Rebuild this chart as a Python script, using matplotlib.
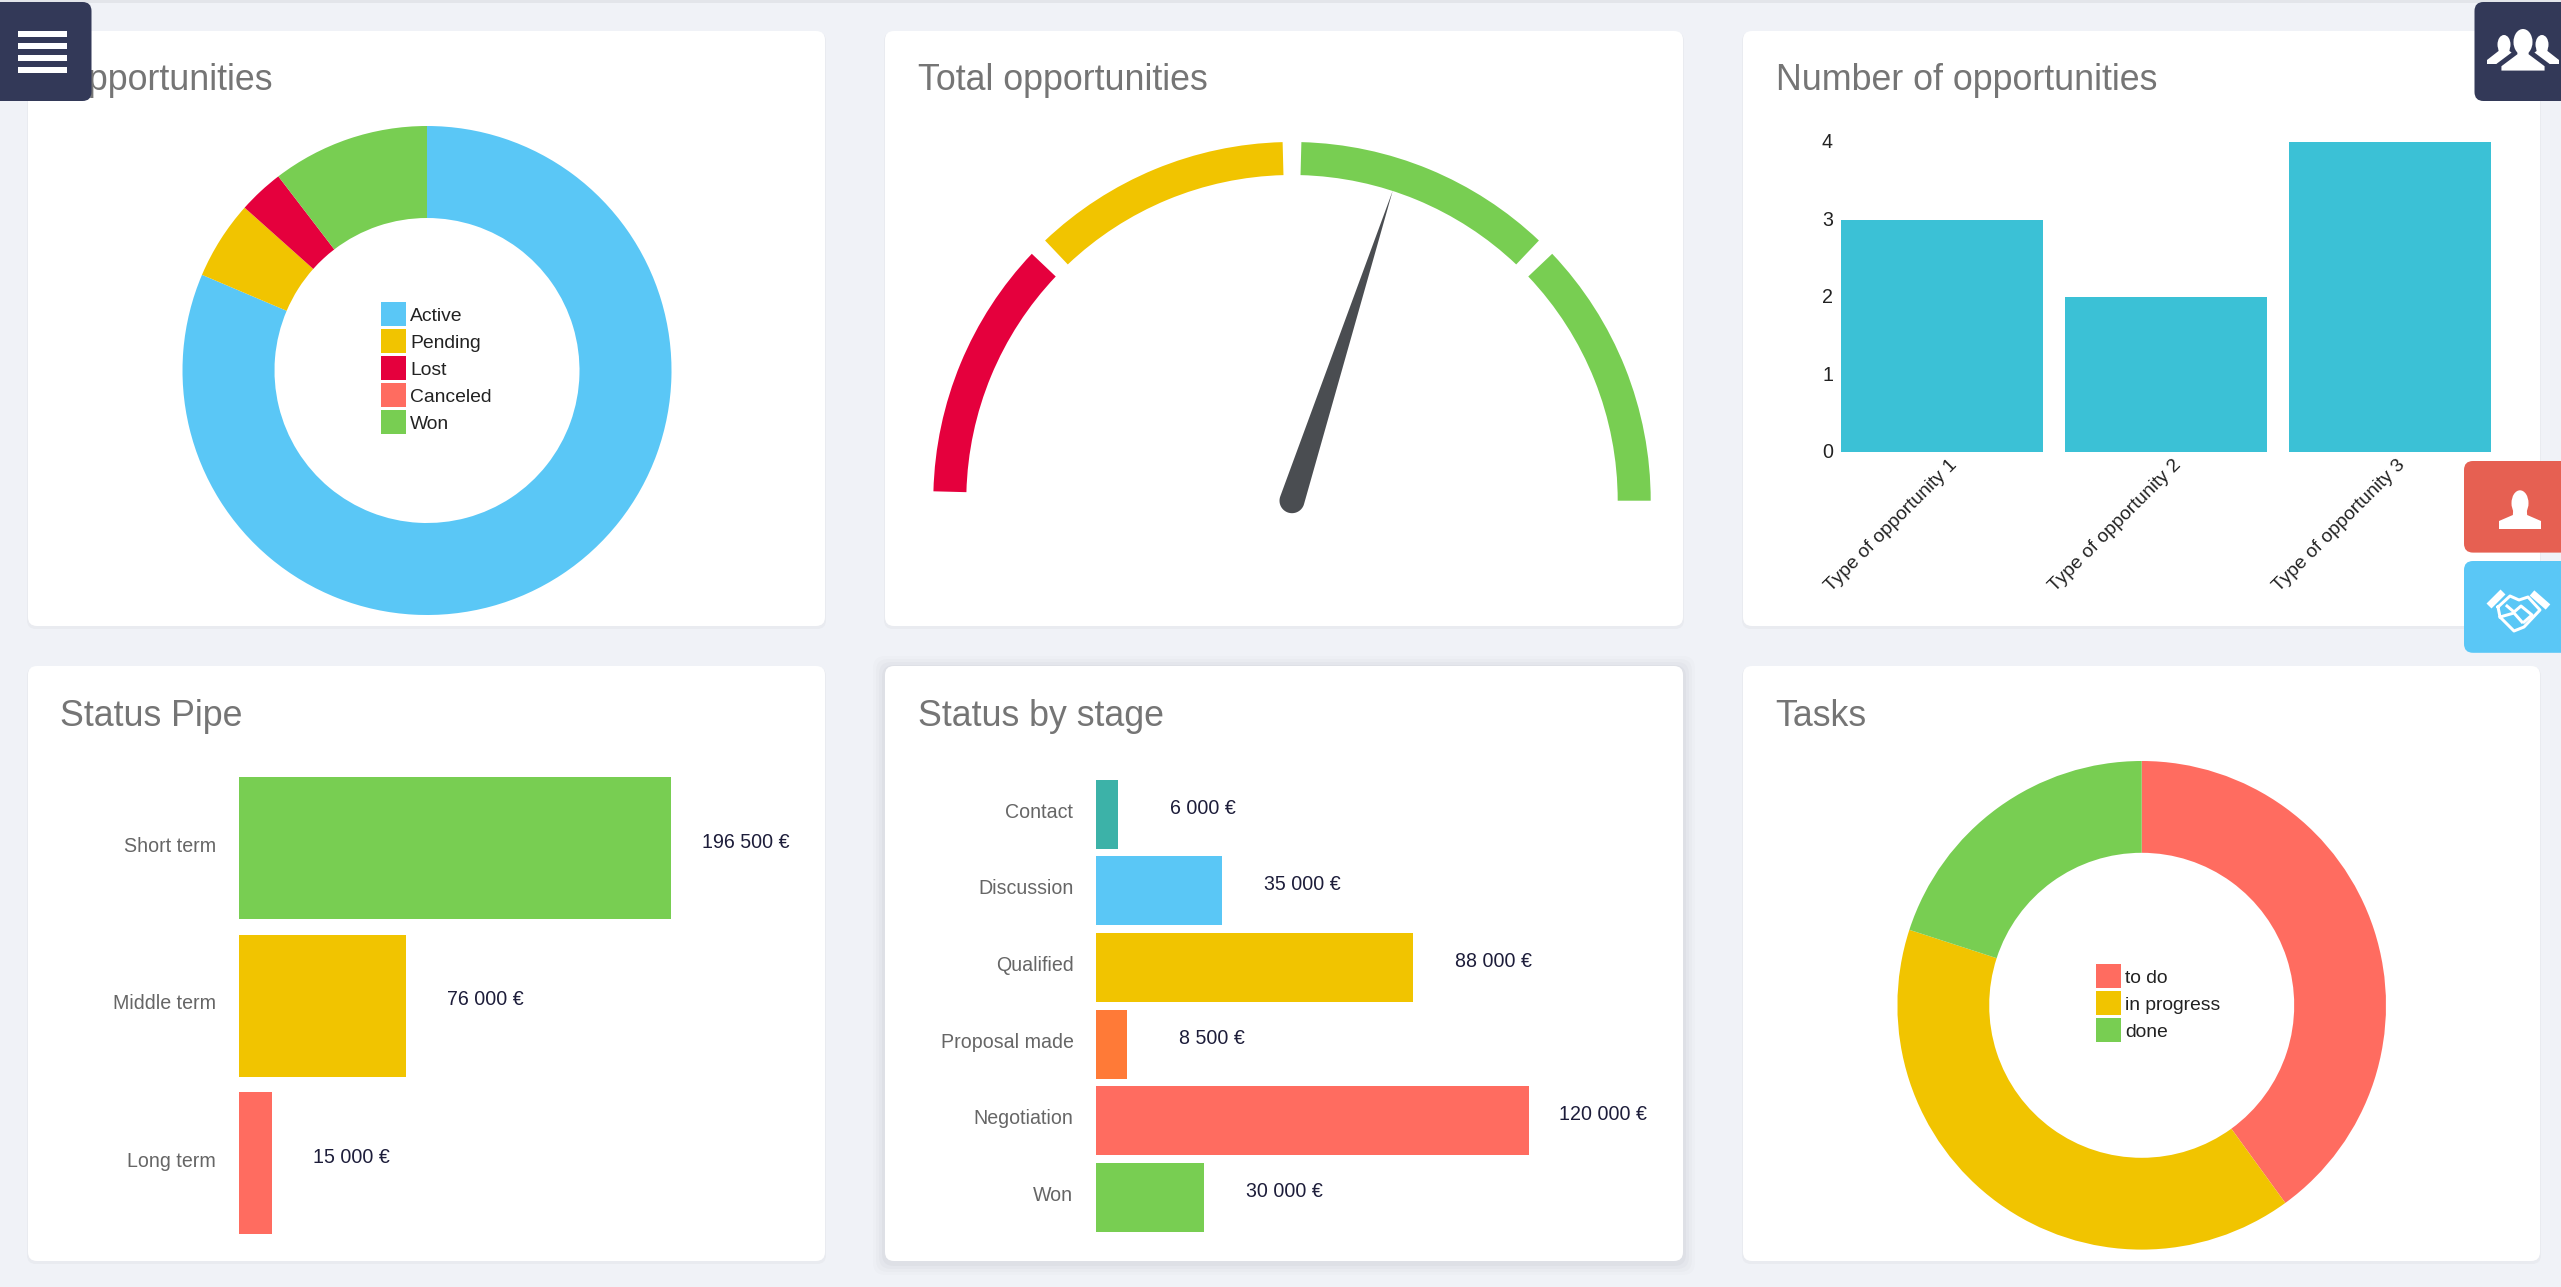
import numpy as np
import matplotlib
matplotlib.use("Agg")
import matplotlib.pyplot as plt
from matplotlib.patches import FancyBboxPatch, Rectangle, Wedge, Ellipse, Polygon
from matplotlib.transforms import ScaledTranslation

plt.rcParams['font.family'] = ['Liberation Sans', 'DejaVu Sans']

# ---- data ----
opp_labels = ['Active', 'Pending', 'Lost', 'Canceled', 'Won']
opp_values = [81.4, 5.2, 3.0, 0.0, 10.4]
opp_colors = ['#5AC7F6', '#F1C400', '#E5003D', '#FF6C60', '#78CE52']

gauge_edges = [0, 45, 90, 135, 180]
gauge_colors = ['#E5003D', '#F1C400', '#78CE52', '#78CE52']
gauge_value = 108

type_labels = ['Type of opportunity 1', 'Type of opportunity 2', 'Type of opportunity 3']
type_values = [3, 2, 4]
type_ticks = [0, 1, 2, 3, 4]

pipe_labels = ['Short term', 'Middle term', 'Long term']
pipe_values = [196500, 76000, 15000]
pipe_text = ['196 500 €', '76 000 €', '15 000 €']
pipe_colors = ['#78CE52', '#F1C400', '#FF6C60']

stage_labels = ['Contact', 'Discussion', 'Qualified', 'Proposal made', 'Negotiation', 'Won']
stage_values = [6000, 35000, 88000, 8500, 120000, 30000]
stage_text = ['6 000 €', '35 000 €', '88 000 €', '8 500 €', '120 000 €', '30 000 €']
stage_colors = ['#3CB2A8', '#5AC7F6', '#F1C400', '#FF7A37', '#FF6C60', '#78CE52']

task_labels = ['to do', 'in progress', 'done']
task_values = [40, 40, 20]
task_colors = ['#FF6C60', '#F1C400', '#78CE52']

titles = ['Opportunities', 'Total opportunities', 'Number of opportunities',
          'Status Pipe', 'Status by stage', 'Tasks']

# ---- layout helpers ----
W, H = 2561, 1287
BG = '#F0F2F7'
fig = plt.figure(figsize=(W / 100, H / 100), dpi=100, facecolor=BG)
PX = 0.72  # points per pixel at dpi 100
SMALL = 19.6 * PX


def axes_px(x0, y0, x1, y1, zorder=2):
    ax = fig.add_axes([x0 / W, 1 - y1 / H, (x1 - x0) / W, (y1 - y0) / H], zorder=zorder)
    ax.patch.set_alpha(0)
    return ax


back = axes_px(0, 0, W, H, zorder=0)
back.set_xlim(0, W)
back.set_ylim(H, 0)
back.axis('off')

card_x = [(28, 825), (885, 1683), (1743, 2540)]
card_y = [(31, 626), (666, 1261)]
title_base = [90, 726.5]
title_x = [60, 918, 1775.5]
back.add_patch(Rectangle((0, 0), W, 2.5, fc='#E3E5EA', ec='none'))
k = 0
for r, (y0, y1) in enumerate(card_y):
    for c, (x0, x1) in enumerate(card_x):
        if k == 4:
            for grow, alpha in [(12, .012), (9, .018), (6, .025), (3, .03)]:
                back.add_patch(FancyBboxPatch((x0 - grow, y0 - grow + 2), x1 - x0 + 2 * grow, y1 - y0 + 2 * grow,
                                              boxstyle='round,pad=0,rounding_size=12', fc='#30354a', ec='none', alpha=alpha))
        else:
            back.add_patch(FancyBboxPatch((x0 - 1, y0 + 1), x1 - x0 + 2, y1 - y0 + 2,
                                          boxstyle='round,pad=0,rounding_size=9', fc='#E9EBF0', ec='none'))
        back.add_patch(FancyBboxPatch((x0, y0), x1 - x0, y1 - y0,
                                      boxstyle='round,pad=0,rounding_size=9', fc='white', ec='none'))
        back.text(title_x[c], title_base[r], titles[k], fontsize=35.7 * PX, color='#757575',
                  va='baseline', ha='left')
        k += 1


def donut(cx, cy, R, r, values, colors, labels, lx, ly):
    ax = axes_px(cx - R, cy - R, cx + R, cy + R)
    wedges, _ = ax.pie(values, colors=colors, startangle=90, counterclock=False, radius=1,
                       wedgeprops=dict(width=1 - r / R, linewidth=0))
    ax.set_xlim(-1, 1)
    ax.set_ylim(-1, 1)
    fs = 19.3
    ax.legend(wedges, labels, loc='upper left',
              bbox_to_anchor=(lx / W, 1 - ly / H), bbox_transform=fig.transFigure,
              frameon=False, borderpad=0, borderaxespad=0,
              fontsize=fs * PX, handlelength=24.5 / fs, handleheight=1.576,
              handletextpad=4.5 / fs, labelspacing=2.5 / fs, labelcolor='#222222')
    return ax


donut(427, 370.5, 244.5, 152.5, opp_values, opp_colors, opp_labels, 381, 302)
donut(2141.7, 1005.3, 244.3, 152.5, task_values, task_colors, task_labels, 2096, 964)

# ---- gauge ----
gx, gy, gR = 1292, 500.7, 358.7
gauge = axes_px(gx - gR, gy - gR, gx + gR, gy + 16)
gauge.set_xlim(-1, 1)
gauge.set_ylim(-16 / gR, 1)
gauge.axis('off')
pad = 1.5
for i, col in enumerate(gauge_colors):
    a0 = gauge_edges[i] + pad
    a1 = gauge_edges[i + 1] - (pad if i < len(gauge_colors) - 1 else 0)
    gauge.add_patch(Wedge((0, 0), 1, 180 - a1, 180 - a0, width=33 / gR, fc=col, ec='none'))
theta = np.radians(180 - gauge_value)
ux, uy = np.cos(theta), np.sin(theta)
tip = 326 / gR
base = 12.5 / gR
arc = np.linspace(theta + np.pi / 2, theta + 3 * np.pi / 2, 30)
pts = [(tip * ux, tip * uy)] + [(base * np.cos(t), base * np.sin(t)) for t in arc]
gauge.add_patch(Polygon(pts, closed=True, fc='#4A4D51', ec='none', zorder=3))

# ---- number of opportunities ----
bar = axes_px(1835, 142.3, 2502, 452)
pos = np.arange(len(type_values))
bar.bar(pos, type_values, width=0.9, color='#3BC1D6')
bar.set_xlim((1835 - 1942.1) / 224, (2502 - 1942.1) / 224)
bar.set_ylim(0, 4)
bar.set_yticks(type_ticks)
bar.set_xticks(pos)
bar.set_xticklabels(type_labels, rotation=45, ha='right', rotation_mode='anchor', va='top',
                    fontsize=19.1 * PX, color='#222222')
bar.tick_params(axis='y', length=0, pad=2 * PX, labelsize=SMALL, labelcolor='#222222')
bar.tick_params(axis='x', length=0, pad=3)
for lab in bar.get_xticklabels():
    lab.set_transform(lab.get_transform() + ScaledTranslation(6 / 100, 0, fig.dpi_scale_trans))
for lab in bar.get_yticklabels():
    lab.set_transform(lab.get_transform() + ScaledTranslation(0, 1.5 / 100, fig.dpi_scale_trans))
for s in bar.spines.values():
    s.set_visible(False)


def hbars(x0, x1, y0, y1, vmax, values, labels, texts, colors):
    ax = axes_px(x0, y0, x1, y1)
    p = np.arange(len(values))
    ax.barh(p, values, height=0.9, color=colors)
    ax.set_xlim(0, vmax)
    ax.set_ylim(len(values) - 0.5, -0.5)
    ax.set_xticks([])
    ax.set_yticks(p)
    ax.set_yticklabels(labels, fontsize=SMALL, color='#666666')
    ax.tick_params(axis='y', length=0, pad=23 * PX)
    for lab in ax.get_yticklabels():
        lab.set_transform(lab.get_transform() + ScaledTranslation(0, 4 / 100, fig.dpi_scale_trans))
    for s in ax.spines.values():
        s.set_visible(False)
    for yy, v, t in zip(p, values, texts):
        ax.annotate(t, (v, yy), xytext=(118 * PX, 6 * PX), textcoords='offset points',
                    ha='right', va='center', fontsize=SMALL, color='#1D1D3A', annotation_clip=False)
    return ax


hbars(239, 671, 769.5, 1242, 196500, pipe_values, pipe_labels, pipe_text, pipe_colors)
hbars(1096.4, 1528.7, 775.7, 1236, 120000, stage_values, stage_labels, stage_text, stage_colors)

# ---- floating buttons ----
top = axes_px(0, 0, W, H, zorder=5)
top.set_xlim(0, W)
top.set_ylim(H, 0)
top.axis('off')
NAVY = '#333958'


def button(x0, y0, x1, y1, col):
    top.add_patch(FancyBboxPatch((x0, y0), x1 - x0, y1 - y0,
                                 boxstyle='round,pad=0,rounding_size=9', fc=col, ec='none'))


def person(cx, head_top, head_bot, hw, sw, bot, outer_h, neck_h, outline=None):
    ntop = (head_top + head_bot) / 2
    pts = [(cx - sw, bot), (cx - sw, bot - outer_h), (cx - hw * .42, bot - neck_h), (cx - hw * .38, ntop),
           (cx + hw * .38, ntop), (cx + hw * .42, bot - neck_h), (cx + sw, bot - outer_h), (cx + sw, bot)]
    top.add_patch(Polygon(pts, closed=True, fc='white', ec=outline or 'none', lw=3.5 if outline else 0))
    top.add_patch(Ellipse((cx, (head_top + head_bot) / 2), hw, head_bot - head_top, fc='white', ec='none'))


button(-20, 2, 91.5, 101, NAVY)
for yy in (31, 43, 55, 67):
    top.add_patch(Rectangle((17.5, yy), 49, 6.3, fc='white', ec='none'))

button(2474.5, 2, W + 20, 101, NAVY)
person(2504, 35, 54, 13, 17, 64, 4, 13)
person(2542, 35, 54, 13, 17, 64, 4, 13)
person(2523, 29, 55, 19, 24, 73, 8, 20, outline=NAVY)

button(2464, 461, W + 20, 552.6, '#E66052')
person(2520, 490.3, 516, 17, 21, 529, 8, 14)

button(2464, 561, W + 20, 652.8, '#5AC7F6')
for seg in ([(2489, 606), (2503, 592)], [(2532, 593), (2548, 607)]):
    top.plot(*zip(*seg), color='white', lw=7 * PX, solid_capstyle='butt')
hand = [(2498, 607), (2510, 596), (2519, 600), (2528, 597), (2540, 610), (2524, 627), (2514, 631),
        (2500, 617), (2498, 607)]
top.plot(*zip(*hand), color='white', lw=3 * PX, solid_joinstyle='round')
top.plot([2507, 2514, 2521, 2532, 2524], [606, 612, 606, 615, 622], color='white', lw=3 * PX)
top.plot([2500, 2514, 2522], [617, 613, 622], color='white', lw=3 * PX)

fig.savefig('out.png', dpi=100, facecolor=BG)
